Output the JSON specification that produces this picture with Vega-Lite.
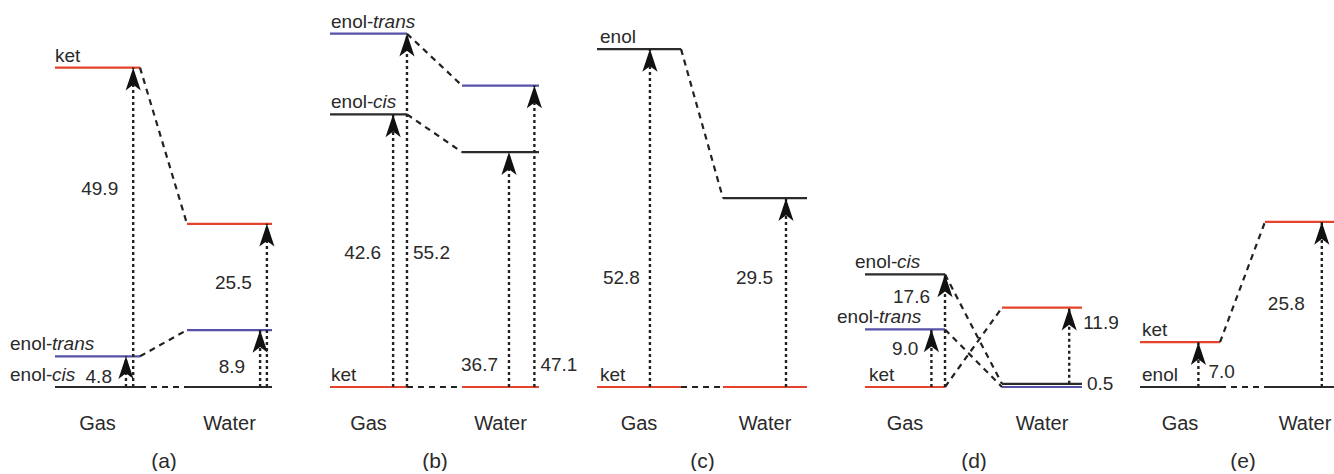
{
  "$schema": "https://vega.github.io/schema/vega-lite/v6.json",
  "background": "white",
  "padding": {"left": 10, "top": 3, "right": 0, "bottom": 0},
  "spacing": 58,
  "bounds": "flush",
  "config": {
    "view": {"stroke": null},
    "font": "Liberation Sans",
    "text": {"font": "Liberation Sans", "fontSize": 19, "color": "#2a2a2a"},
    "axisX": {"domain": false, "ticks": false, "grid": false, "labelFont": "Liberation Sans", "labelFontSize": 20, "labelColor": "#2a2a2a", "labelPadding": 26, "labelAngle": 0, "titleFont": "Liberation Sans", "titleFontSize": 21, "titleFontWeight": "normal", "titleColor": "#2a2a2a", "titlePadding": 17}
  },
  "datasets": {
    "levels": [
      {"panel": "a", "phase": "Gas", "species": "enol-cis", "energy": 0},
      {"panel": "a", "phase": "Gas", "species": "enol-trans", "energy": 4.8},
      {"panel": "a", "phase": "Gas", "species": "ket", "energy": 49.9},
      {"panel": "a", "phase": "Water", "species": "enol-cis", "energy": 0},
      {"panel": "a", "phase": "Water", "species": "enol-trans", "energy": 8.9},
      {"panel": "a", "phase": "Water", "species": "ket", "energy": 25.5},
      {"panel": "b", "phase": "Gas", "species": "ket", "energy": 0},
      {"panel": "b", "phase": "Gas", "species": "enol-cis", "energy": 42.6},
      {"panel": "b", "phase": "Gas", "species": "enol-trans", "energy": 55.2},
      {"panel": "b", "phase": "Water", "species": "ket", "energy": 0},
      {"panel": "b", "phase": "Water", "species": "enol-cis", "energy": 36.7},
      {"panel": "b", "phase": "Water", "species": "enol-trans", "energy": 47.1},
      {"panel": "c", "phase": "Gas", "species": "ket", "energy": 0},
      {"panel": "c", "phase": "Gas", "species": "enol", "energy": 52.8},
      {"panel": "c", "phase": "Water", "species": "ket", "energy": 0},
      {"panel": "c", "phase": "Water", "species": "enol", "energy": 29.5},
      {"panel": "d", "phase": "Gas", "species": "ket", "energy": 0},
      {"panel": "d", "phase": "Gas", "species": "enol-trans", "energy": 9.0},
      {"panel": "d", "phase": "Gas", "species": "enol-cis", "energy": 17.6},
      {"panel": "d", "phase": "Water", "species": "enol-trans", "energy": 0},
      {"panel": "d", "phase": "Water", "species": "enol-cis", "energy": 0.5},
      {"panel": "d", "phase": "Water", "species": "ket", "energy": 12.4},
      {"panel": "e", "phase": "Gas", "species": "enol", "energy": 0},
      {"panel": "e", "phase": "Gas", "species": "ket", "energy": 7.0},
      {"panel": "e", "phase": "Water", "species": "enol", "energy": 0},
      {"panel": "e", "phase": "Water", "species": "ket", "energy": 25.8}
    ],
    "arrows": [
      {"panel": "a", "phase": "Gas", "lower": "enol-cis", "upper": "enol-trans", "from": 0, "to": 4.8},
      {"panel": "a", "phase": "Gas", "lower": "enol-cis", "upper": "ket", "from": 0, "to": 49.9},
      {"panel": "a", "phase": "Water", "lower": "enol-cis", "upper": "enol-trans", "from": 0, "to": 8.9},
      {"panel": "a", "phase": "Water", "lower": "enol-cis", "upper": "ket", "from": 0, "to": 25.5},
      {"panel": "b", "phase": "Gas", "lower": "ket", "upper": "enol-cis", "from": 0, "to": 42.6},
      {"panel": "b", "phase": "Gas", "lower": "ket", "upper": "enol-trans", "from": 0, "to": 55.2},
      {"panel": "b", "phase": "Water", "lower": "ket", "upper": "enol-cis", "from": 0, "to": 36.7},
      {"panel": "b", "phase": "Water", "lower": "ket", "upper": "enol-trans", "from": 0, "to": 47.1},
      {"panel": "c", "phase": "Gas", "lower": "ket", "upper": "enol", "from": 0, "to": 52.8},
      {"panel": "c", "phase": "Water", "lower": "ket", "upper": "enol", "from": 0, "to": 29.5},
      {"panel": "d", "phase": "Gas", "lower": "ket", "upper": "enol-trans", "from": 0, "to": 9.0},
      {"panel": "d", "phase": "Gas", "lower": "ket", "upper": "enol-cis", "from": 0, "to": 17.6},
      {"panel": "d", "phase": "Water", "lower": "enol-cis", "upper": "ket", "from": 0.5, "to": 12.4},
      {"panel": "d", "phase": "Water", "lower": "enol-trans", "upper": "enol-cis", "from": 0, "to": 0.5},
      {"panel": "e", "phase": "Gas", "lower": "enol", "upper": "ket", "from": 0, "to": 7.0},
      {"panel": "e", "phase": "Water", "lower": "enol", "upper": "ket", "from": 0, "to": 25.8}
    ]
  },
  "hconcat": [
    {
      "width": 217, "height": 384,
      "layer": [
        {"data": {"name": "levels"}, "transform": [{"filter": "datum.panel == 'a'"}],
         "mark": {"type": "rule", "strokeWidth": 2.2},
         "encoding": {
           "x": {"field": "phase", "type": "nominal", "bandPosition": 0, "scale": {"type": "band", "domain": ["Gas", "Water"], "paddingInner": 0.356, "paddingOuter": 0}, "axis": {"title": "(a)"}},
           "x2": {"field": "phase", "bandPosition": 1},
           "y": {"field": "energy", "type": "quantitative", "scale": {"domain": [0, 60], "nice": false}, "axis": null},
           "color": {"field": "species", "type": "nominal", "scale": {"domain": ["ket", "enol-trans", "enol-cis", "enol"], "range": ["#e5432b", "#5552a8", "#2b2b2b", "#2b2b2b"]}, "legend": null}}},
        {"data": {"name": "levels"}, "transform": [{"filter": "datum.panel == 'a'"}, {"pivot": "phase", "value": "energy", "groupby": ["species"]}],
         "mark": {"type": "rule", "strokeWidth": 2.2, "strokeDash": [6, 5], "color": "#222222"},
         "encoding": {"x": {"datum": "Gas", "type": "nominal", "bandPosition": 1}, "x2": {"datum": "Water", "bandPosition": 0}, "y": {"field": "Gas", "type": "quantitative", "axis": null}, "y2": {"field": "Water"}}},
        {"data": {"name": "levels"},
         "transform": [{"filter": "datum.panel == 'a' && datum.phase == 'Gas' && datum.species == 'ket'"}],
         "mark": {"type": "text", "align": "left", "baseline": "alphabetic", "dx": 0, "dy": -6},
         "encoding": {"x": {"field": "phase", "type": "nominal", "bandPosition": 0}, "y": {"field": "energy", "type": "quantitative", "axis": null}, "text": {"field": "species"}}},
        {"data": {"name": "levels"},
         "transform": [{"filter": "datum.panel == 'a' && datum.phase == 'Gas' && datum.species != 'ket'"}, {"calculate": "split(datum.species, '-')[0] + '-'", "as": "stem"}, {"calculate": "split(datum.species, '-')[1]", "as": "form"}],
         "encoding": {"x": {"field": "phase", "type": "nominal", "bandPosition": 0}, "y": {"field": "energy", "type": "quantitative", "axis": null}},
         "layer": [
           {"mark": {"type": "text", "align": "left", "baseline": "alphabetic", "dx": -45, "dy": -6}, "encoding": {"text": {"field": "stem"}}},
           {"mark": {"type": "text", "align": "left", "baseline": "alphabetic", "dx": -3, "dy": -6, "fontStyle": "italic"}, "encoding": {"text": {"field": "form"}}}
         ]},
        {"data": {"name": "arrows"}, "transform": [{"filter": "datum.panel == 'a' && datum.phase == 'Gas' && datum.upper == 'enol-trans'"}, {"calculate": "datum.to - datum.from", "as": "gap"}],
         "encoding": {"x": {"field": "phase", "type": "nominal", "bandPosition": 0.835}},
         "layer": [
           {"mark": {"type": "rule", "strokeWidth": 2.4, "strokeDash": [3, 3], "color": "#222222"}, "encoding": {"y": {"field": "from", "type": "quantitative", "axis": null}, "y2": {"field": "to"}}},
           {"mark": {"type": "point", "shape": "M0,0L1.2,3.6L0,2.7L-1.2,3.6Z", "size": 160, "filled": true, "opacity": 1, "color": "#111111"}, "encoding": {"y": {"field": "to", "type": "quantitative", "axis": null}}},
           {"mark": {"type": "text", "align": "right", "baseline": "middle", "dx": -14}, "encoding": {"y": {"datum": 1.5, "type": "quantitative", "axis": null}, "text": {"field": "gap", "type": "quantitative", "format": ".1f"}}}
         ]},
        {"data": {"name": "arrows"}, "transform": [{"filter": "datum.panel == 'a' && datum.phase == 'Gas' && datum.upper == 'ket'"}, {"calculate": "datum.to - datum.from", "as": "gap"}],
         "encoding": {"x": {"field": "phase", "type": "nominal", "bandPosition": 0.92}},
         "layer": [
           {"mark": {"type": "rule", "strokeWidth": 2.4, "strokeDash": [3, 3], "color": "#222222"}, "encoding": {"y": {"field": "from", "type": "quantitative", "axis": null}, "y2": {"field": "to"}}},
           {"mark": {"type": "point", "shape": "M0,0L1.2,3.6L0,2.7L-1.2,3.6Z", "size": 160, "filled": true, "opacity": 1, "color": "#111111"}, "encoding": {"y": {"field": "to", "type": "quantitative", "axis": null}}},
           {"mark": {"type": "text", "align": "right", "baseline": "middle", "dx": -15}, "encoding": {"y": {"datum": 31, "type": "quantitative", "axis": null}, "text": {"field": "gap", "type": "quantitative", "format": ".1f"}}}
         ]},
        {"data": {"name": "arrows"}, "transform": [{"filter": "datum.panel == 'a' && datum.phase == 'Water' && datum.upper == 'enol-trans'"}, {"calculate": "datum.to - datum.from", "as": "gap"}],
         "encoding": {"x": {"field": "phase", "type": "nominal", "bandPosition": 0.86}},
         "layer": [
           {"mark": {"type": "rule", "strokeWidth": 2.4, "strokeDash": [3, 3], "color": "#222222"}, "encoding": {"y": {"field": "from", "type": "quantitative", "axis": null}, "y2": {"field": "to"}}},
           {"mark": {"type": "point", "shape": "M0,0L1.2,3.6L0,2.7L-1.2,3.6Z", "size": 160, "filled": true, "opacity": 1, "color": "#111111"}, "encoding": {"y": {"field": "to", "type": "quantitative", "axis": null}}},
           {"mark": {"type": "text", "align": "right", "baseline": "middle", "dx": -15}, "encoding": {"y": {"datum": 3.2, "type": "quantitative", "axis": null}, "text": {"field": "gap", "type": "quantitative", "format": ".1f"}}}
         ]},
        {"data": {"name": "arrows"}, "transform": [{"filter": "datum.panel == 'a' && datum.phase == 'Water' && datum.upper == 'ket'"}, {"calculate": "datum.to - datum.from", "as": "gap"}],
         "encoding": {"x": {"field": "phase", "type": "nominal", "bandPosition": 0.94}},
         "layer": [
           {"mark": {"type": "rule", "strokeWidth": 2.4, "strokeDash": [3, 3], "color": "#222222"}, "encoding": {"y": {"field": "from", "type": "quantitative", "axis": null}, "y2": {"field": "to"}}},
           {"mark": {"type": "point", "shape": "M0,0L1.2,3.6L0,2.7L-1.2,3.6Z", "size": 160, "filled": true, "opacity": 1, "color": "#111111"}, "encoding": {"y": {"field": "to", "type": "quantitative", "axis": null}}},
           {"mark": {"type": "text", "align": "right", "baseline": "middle", "dx": -15}, "encoding": {"y": {"datum": 16.2, "type": "quantitative", "axis": null}, "text": {"field": "gap", "type": "quantitative", "format": ".1f"}}}
         ]}
      ]
    },
    {
      "width": 209, "height": 384,
      "layer": [
        {"data": {"name": "levels"}, "transform": [{"filter": "datum.panel == 'b'"}],
         "mark": {"type": "rule", "strokeWidth": 2.2},
         "encoding": {
           "x": {"field": "phase", "type": "nominal", "bandPosition": 0, "scale": {"type": "band", "domain": ["Gas", "Water"], "paddingInner": 0.417, "paddingOuter": 0}, "axis": {"title": "(b)"}},
           "x2": {"field": "phase", "bandPosition": 1},
           "y": {"field": "energy", "type": "quantitative", "scale": {"domain": [0, 60], "nice": false}, "axis": null},
           "color": {"field": "species", "type": "nominal", "scale": {"domain": ["ket", "enol-trans", "enol-cis", "enol"], "range": ["#e5432b", "#5552a8", "#2b2b2b", "#2b2b2b"]}, "legend": null}}},
        {"data": {"name": "levels"}, "transform": [{"filter": "datum.panel == 'b'"}, {"pivot": "phase", "value": "energy", "groupby": ["species"]}],
         "mark": {"type": "rule", "strokeWidth": 2.2, "strokeDash": [6, 5], "color": "#222222"},
         "encoding": {"x": {"datum": "Gas", "type": "nominal", "bandPosition": 1}, "x2": {"datum": "Water", "bandPosition": 0}, "y": {"field": "Gas", "type": "quantitative", "axis": null}, "y2": {"field": "Water"}}},
        {"data": {"name": "levels"},
         "transform": [{"filter": "datum.panel == 'b' && datum.phase == 'Gas'"}, {"calculate": "indexof(datum.species, '-') > 0 ? split(datum.species, '-')[0] + '-' : datum.species", "as": "stem"}, {"calculate": "indexof(datum.species, '-') > 0 ? split(datum.species, '-')[1] : ''", "as": "form"}],
         "encoding": {"x": {"field": "phase", "type": "nominal", "bandPosition": 0}, "y": {"field": "energy", "type": "quantitative", "axis": null}},
         "layer": [
           {"mark": {"type": "text", "align": "left", "baseline": "alphabetic", "dx": 1, "dy": -6}, "encoding": {"text": {"field": "stem"}}},
           {"mark": {"type": "text", "align": "left", "baseline": "alphabetic", "dx": 43, "dy": -6, "fontStyle": "italic"}, "encoding": {"text": {"field": "form"}}}
         ]},
        {"data": {"name": "arrows"}, "transform": [{"filter": "datum.panel == 'b' && datum.phase == 'Gas' && datum.upper == 'enol-cis'"}, {"calculate": "datum.to - datum.from", "as": "gap"}],
         "encoding": {"x": {"field": "phase", "type": "nominal", "bandPosition": 0.82}},
         "layer": [
           {"mark": {"type": "rule", "strokeWidth": 2.4, "strokeDash": [3, 3], "color": "#222222"}, "encoding": {"y": {"field": "from", "type": "quantitative", "axis": null}, "y2": {"field": "to"}}},
           {"mark": {"type": "point", "shape": "M0,0L1.2,3.6L0,2.7L-1.2,3.6Z", "size": 160, "filled": true, "opacity": 1, "color": "#111111"}, "encoding": {"y": {"field": "to", "type": "quantitative", "axis": null}}},
           {"mark": {"type": "text", "align": "right", "baseline": "middle", "dx": -12}, "encoding": {"y": {"datum": 21, "type": "quantitative", "axis": null}, "text": {"field": "gap", "type": "quantitative", "format": ".1f"}}}
         ]},
        {"data": {"name": "arrows"}, "transform": [{"filter": "datum.panel == 'b' && datum.phase == 'Gas' && datum.upper == 'enol-trans'"}, {"calculate": "datum.to - datum.from", "as": "gap"}],
         "encoding": {"x": {"field": "phase", "type": "nominal", "bandPosition": 1}},
         "layer": [
           {"mark": {"type": "rule", "strokeWidth": 2.4, "strokeDash": [3, 3], "color": "#222222"}, "encoding": {"y": {"field": "from", "type": "quantitative", "axis": null}, "y2": {"field": "to"}}},
           {"mark": {"type": "point", "shape": "M0,0L1.2,3.6L0,2.7L-1.2,3.6Z", "size": 160, "filled": true, "opacity": 1, "color": "#111111"}, "encoding": {"y": {"field": "to", "type": "quantitative", "axis": null}}},
           {"mark": {"type": "text", "align": "left", "baseline": "middle", "dx": 6}, "encoding": {"y": {"datum": 21, "type": "quantitative", "axis": null}, "text": {"field": "gap", "type": "quantitative", "format": ".1f"}}}
         ]},
        {"data": {"name": "arrows"}, "transform": [{"filter": "datum.panel == 'b' && datum.phase == 'Water' && datum.upper == 'enol-cis'"}, {"calculate": "datum.to - datum.from", "as": "gap"}],
         "encoding": {"x": {"field": "phase", "type": "nominal", "bandPosition": 0.61}},
         "layer": [
           {"mark": {"type": "rule", "strokeWidth": 2.4, "strokeDash": [3, 3], "color": "#222222"}, "encoding": {"y": {"field": "from", "type": "quantitative", "axis": null}, "y2": {"field": "to"}}},
           {"mark": {"type": "point", "shape": "M0,0L1.2,3.6L0,2.7L-1.2,3.6Z", "size": 160, "filled": true, "opacity": 1, "color": "#111111"}, "encoding": {"y": {"field": "to", "type": "quantitative", "axis": null}}},
           {"mark": {"type": "text", "align": "right", "baseline": "middle", "dx": -11}, "encoding": {"y": {"datum": 3.4, "type": "quantitative", "axis": null}, "text": {"field": "gap", "type": "quantitative", "format": ".1f"}}}
         ]},
        {"data": {"name": "arrows"}, "transform": [{"filter": "datum.panel == 'b' && datum.phase == 'Water' && datum.upper == 'enol-trans'"}, {"calculate": "datum.to - datum.from", "as": "gap"}],
         "encoding": {"x": {"field": "phase", "type": "nominal", "bandPosition": 0.94}},
         "layer": [
           {"mark": {"type": "rule", "strokeWidth": 2.4, "strokeDash": [3, 3], "color": "#222222"}, "encoding": {"y": {"field": "from", "type": "quantitative", "axis": null}, "y2": {"field": "to"}}},
           {"mark": {"type": "point", "shape": "M0,0L1.2,3.6L0,2.7L-1.2,3.6Z", "size": 160, "filled": true, "opacity": 1, "color": "#111111"}, "encoding": {"y": {"field": "to", "type": "quantitative", "axis": null}}},
           {"mark": {"type": "text", "align": "left", "baseline": "middle", "dx": 6}, "encoding": {"y": {"datum": 3.4, "type": "quantitative", "axis": null}, "text": {"field": "gap", "type": "quantitative", "format": ".1f"}}}
         ]}
      ]
    },
    {
      "width": 210, "height": 384,
      "layer": [
        {"data": {"name": "levels"}, "transform": [{"filter": "datum.panel == 'c'"}],
         "mark": {"type": "rule", "strokeWidth": 2.2},
         "encoding": {
           "x": {"field": "phase", "type": "nominal", "bandPosition": 0, "scale": {"type": "band", "domain": ["Gas", "Water"], "paddingInner": 0.333, "paddingOuter": 0}, "axis": {"title": "(c)"}},
           "x2": {"field": "phase", "bandPosition": 1},
           "y": {"field": "energy", "type": "quantitative", "scale": {"domain": [0, 60], "nice": false}, "axis": null},
           "color": {"field": "species", "type": "nominal", "scale": {"domain": ["ket", "enol-trans", "enol-cis", "enol"], "range": ["#e5432b", "#5552a8", "#2b2b2b", "#2b2b2b"]}, "legend": null}}},
        {"data": {"name": "levels"}, "transform": [{"filter": "datum.panel == 'c'"}, {"pivot": "phase", "value": "energy", "groupby": ["species"]}],
         "mark": {"type": "rule", "strokeWidth": 2.2, "strokeDash": [6, 5], "color": "#222222"},
         "encoding": {"x": {"datum": "Gas", "type": "nominal", "bandPosition": 1}, "x2": {"datum": "Water", "bandPosition": 0}, "y": {"field": "Gas", "type": "quantitative", "axis": null}, "y2": {"field": "Water"}}},
        {"data": {"name": "levels"},
         "transform": [{"filter": "datum.panel == 'c' && datum.phase == 'Gas'"}],
         "mark": {"type": "text", "align": "left", "baseline": "alphabetic", "dx": 3, "dy": -6},
         "encoding": {"x": {"field": "phase", "type": "nominal", "bandPosition": 0}, "y": {"field": "energy", "type": "quantitative", "axis": null}, "text": {"field": "species"}}},
        {"data": {"name": "arrows"}, "transform": [{"filter": "datum.panel == 'c' && datum.phase == 'Gas'"}, {"calculate": "datum.to - datum.from", "as": "gap"}],
         "encoding": {"x": {"field": "phase", "type": "nominal", "bandPosition": 0.63}},
         "layer": [
           {"mark": {"type": "rule", "strokeWidth": 2.4, "strokeDash": [3, 3], "color": "#222222"}, "encoding": {"y": {"field": "from", "type": "quantitative", "axis": null}, "y2": {"field": "to"}}},
           {"mark": {"type": "point", "shape": "M0,0L1.2,3.6L0,2.7L-1.2,3.6Z", "size": 160, "filled": true, "opacity": 1, "color": "#111111"}, "encoding": {"y": {"field": "to", "type": "quantitative", "axis": null}}},
           {"mark": {"type": "text", "align": "right", "baseline": "middle", "dx": -10}, "encoding": {"y": {"datum": 17, "type": "quantitative", "axis": null}, "text": {"field": "gap", "type": "quantitative", "format": ".1f"}}}
         ]},
        {"data": {"name": "arrows"}, "transform": [{"filter": "datum.panel == 'c' && datum.phase == 'Water'"}, {"calculate": "datum.to - datum.from", "as": "gap"}],
         "encoding": {"x": {"field": "phase", "type": "nominal", "bandPosition": 0.75}},
         "layer": [
           {"mark": {"type": "rule", "strokeWidth": 2.4, "strokeDash": [3, 3], "color": "#222222"}, "encoding": {"y": {"field": "from", "type": "quantitative", "axis": null}, "y2": {"field": "to"}}},
           {"mark": {"type": "point", "shape": "M0,0L1.2,3.6L0,2.7L-1.2,3.6Z", "size": 160, "filled": true, "opacity": 1, "color": "#111111"}, "encoding": {"y": {"field": "to", "type": "quantitative", "axis": null}}},
           {"mark": {"type": "text", "align": "right", "baseline": "middle", "dx": -13}, "encoding": {"y": {"datum": 17, "type": "quantitative", "axis": null}, "text": {"field": "gap", "type": "quantitative", "format": ".1f"}}}
         ]}
      ]
    },
    {
      "width": 217, "height": 384,
      "layer": [
        {"data": {"name": "levels"}, "transform": [{"filter": "datum.panel == 'd'"}],
         "mark": {"type": "rule", "strokeWidth": 2.2},
         "encoding": {
           "x": {"field": "phase", "type": "nominal", "bandPosition": 0, "scale": {"type": "band", "domain": ["Gas", "Water"], "paddingInner": 0.416, "paddingOuter": 0}, "axis": {"title": "(d)"}},
           "x2": {"field": "phase", "bandPosition": 1},
           "y": {"field": "energy", "type": "quantitative", "scale": {"domain": [0, 60], "nice": false}, "axis": null},
           "color": {"field": "species", "type": "nominal", "scale": {"domain": ["ket", "enol-trans", "enol-cis", "enol"], "range": ["#e5432b", "#5552a8", "#2b2b2b", "#2b2b2b"]}, "legend": null}}},
        {"data": {"name": "levels"}, "transform": [{"filter": "datum.panel == 'd'"}, {"pivot": "phase", "value": "energy", "groupby": ["species"]}],
         "mark": {"type": "rule", "strokeWidth": 2.2, "strokeDash": [6, 5], "color": "#222222"},
         "encoding": {"x": {"datum": "Gas", "type": "nominal", "bandPosition": 1}, "x2": {"datum": "Water", "bandPosition": 0}, "y": {"field": "Gas", "type": "quantitative", "axis": null}, "y2": {"field": "Water"}}},
        {"data": {"name": "levels"},
         "transform": [{"filter": "datum.panel == 'd' && datum.phase == 'Gas' && datum.species == 'ket'"}],
         "mark": {"type": "text", "align": "left", "baseline": "alphabetic", "dx": 4, "dy": -6},
         "encoding": {"x": {"field": "phase", "type": "nominal", "bandPosition": 0}, "y": {"field": "energy", "type": "quantitative", "axis": null}, "text": {"field": "species"}}},
        {"data": {"name": "levels"},
         "transform": [{"filter": "datum.panel == 'd' && datum.phase == 'Gas' && datum.species == 'enol-cis'"}, {"calculate": "split(datum.species, '-')[0] + '-'", "as": "stem"}, {"calculate": "split(datum.species, '-')[1]", "as": "form"}],
         "encoding": {"x": {"field": "phase", "type": "nominal", "bandPosition": 0}, "y": {"field": "energy", "type": "quantitative", "axis": null}},
         "layer": [
           {"mark": {"type": "text", "align": "left", "baseline": "alphabetic", "dx": -10, "dy": -6}, "encoding": {"text": {"field": "stem"}}},
           {"mark": {"type": "text", "align": "left", "baseline": "alphabetic", "dx": 32, "dy": -6, "fontStyle": "italic"}, "encoding": {"text": {"field": "form"}}}
         ]},
        {"data": {"name": "levels"},
         "transform": [{"filter": "datum.panel == 'd' && datum.phase == 'Gas' && datum.species == 'enol-trans'"}, {"calculate": "split(datum.species, '-')[0] + '-'", "as": "stem"}, {"calculate": "split(datum.species, '-')[1]", "as": "form"}],
         "encoding": {"x": {"field": "phase", "type": "nominal", "bandPosition": 0}, "y": {"field": "energy", "type": "quantitative", "axis": null}},
         "layer": [
           {"mark": {"type": "text", "align": "left", "baseline": "alphabetic", "dx": -28, "dy": -6}, "encoding": {"text": {"field": "stem"}}},
           {"mark": {"type": "text", "align": "left", "baseline": "alphabetic", "dx": 14, "dy": -6, "fontStyle": "italic"}, "encoding": {"text": {"field": "form"}}}
         ]},
        {"data": {"name": "arrows"}, "transform": [{"filter": "datum.panel == 'd' && datum.phase == 'Gas' && datum.upper == 'enol-trans'"}, {"calculate": "datum.to - datum.from", "as": "gap"}],
         "encoding": {"x": {"field": "phase", "type": "nominal", "bandPosition": 0.83}},
         "layer": [
           {"mark": {"type": "rule", "strokeWidth": 2.4, "strokeDash": [3, 3], "color": "#222222"}, "encoding": {"y": {"field": "from", "type": "quantitative", "axis": null}, "y2": {"field": "to"}}},
           {"mark": {"type": "point", "shape": "M0,0L1.2,3.6L0,2.7L-1.2,3.6Z", "size": 160, "filled": true, "opacity": 1, "color": "#111111"}, "encoding": {"y": {"field": "to", "type": "quantitative", "axis": null}}},
           {"mark": {"type": "text", "align": "right", "baseline": "middle", "dx": -13}, "encoding": {"y": {"datum": 5.9, "type": "quantitative", "axis": null}, "text": {"field": "gap", "type": "quantitative", "format": ".1f"}}}
         ]},
        {"data": {"name": "arrows"}, "transform": [{"filter": "datum.panel == 'd' && datum.phase == 'Gas' && datum.upper == 'enol-cis'"}, {"calculate": "datum.to - datum.from", "as": "gap"}],
         "encoding": {"x": {"field": "phase", "type": "nominal", "bandPosition": 1}},
         "layer": [
           {"mark": {"type": "rule", "strokeWidth": 2.4, "strokeDash": [3, 3], "color": "#222222"}, "encoding": {"y": {"field": "from", "type": "quantitative", "axis": null}, "y2": {"field": "to"}}},
           {"mark": {"type": "point", "shape": "M0,0L1.2,3.6L0,2.7L-1.2,3.6Z", "size": 160, "filled": true, "opacity": 1, "color": "#111111"}, "encoding": {"y": {"field": "to", "type": "quantitative", "axis": null}}},
           {"mark": {"type": "text", "align": "right", "baseline": "middle", "dx": -15}, "encoding": {"y": {"datum": 14, "type": "quantitative", "axis": null}, "text": {"field": "gap", "type": "quantitative", "format": ".1f"}}}
         ]},
        {"data": {"name": "arrows"}, "transform": [{"filter": "datum.panel == 'd' && datum.phase == 'Water' && datum.upper == 'ket'"}, {"calculate": "datum.to - datum.from", "as": "gap"}],
         "encoding": {"x": {"field": "phase", "type": "nominal", "bandPosition": 0.84}},
         "layer": [
           {"mark": {"type": "rule", "strokeWidth": 2.4, "strokeDash": [3, 3], "color": "#222222"}, "encoding": {"y": {"field": "from", "type": "quantitative", "axis": null}, "y2": {"field": "to"}}},
           {"mark": {"type": "point", "shape": "M0,0L1.2,3.6L0,2.7L-1.2,3.6Z", "size": 160, "filled": true, "opacity": 1, "color": "#111111"}, "encoding": {"y": {"field": "to", "type": "quantitative", "axis": null}}},
           {"mark": {"type": "text", "align": "left", "baseline": "middle", "dx": 14}, "encoding": {"y": {"datum": 10, "type": "quantitative", "axis": null}, "text": {"field": "gap", "type": "quantitative", "format": ".1f"}}}
         ]},
        {"data": {"name": "arrows"}, "transform": [{"filter": "datum.panel == 'd' && datum.phase == 'Water' && datum.upper == 'enol-cis'"}, {"calculate": "datum.to - datum.from", "as": "gap"}],
         "mark": {"type": "text", "align": "left", "baseline": "middle", "dx": 5},
         "encoding": {"x": {"field": "phase", "type": "nominal", "bandPosition": 1}, "y": {"datum": 0.4, "type": "quantitative", "axis": null}, "text": {"field": "gap", "type": "quantitative", "format": ".1f"}}}
      ]
    },
    {
      "width": 205, "height": 384,
      "layer": [
        {"data": {"name": "levels"}, "transform": [{"filter": "datum.panel == 'e'"}],
         "mark": {"type": "rule", "strokeWidth": 2.2},
         "encoding": {
           "x": {"field": "phase", "type": "nominal", "bandPosition": 0, "scale": {"type": "band", "domain": ["Gas", "Water"], "paddingInner": 0.36, "paddingOuter": 0}, "axis": {"title": "(e)"}},
           "x2": {"field": "phase", "bandPosition": 1},
           "y": {"field": "energy", "type": "quantitative", "scale": {"domain": [0, 60], "nice": false}, "axis": null},
           "color": {"field": "species", "type": "nominal", "scale": {"domain": ["ket", "enol-trans", "enol-cis", "enol"], "range": ["#e5432b", "#5552a8", "#2b2b2b", "#2b2b2b"]}, "legend": null}}},
        {"data": {"name": "levels"}, "transform": [{"filter": "datum.panel == 'e'"}, {"pivot": "phase", "value": "energy", "groupby": ["species"]}],
         "mark": {"type": "rule", "strokeWidth": 2.2, "strokeDash": [6, 5], "color": "#222222"},
         "encoding": {"x": {"datum": "Gas", "type": "nominal", "bandPosition": 1}, "x2": {"datum": "Water", "bandPosition": 0}, "y": {"field": "Gas", "type": "quantitative", "axis": null}, "y2": {"field": "Water"}}},
        {"data": {"name": "levels"},
         "transform": [{"filter": "datum.panel == 'e' && datum.phase == 'Gas'"}],
         "mark": {"type": "text", "align": "left", "baseline": "alphabetic", "dx": 2, "dy": -6},
         "encoding": {"x": {"field": "phase", "type": "nominal", "bandPosition": 0}, "y": {"field": "energy", "type": "quantitative", "axis": null}, "text": {"field": "species"}}},
        {"data": {"name": "arrows"}, "transform": [{"filter": "datum.panel == 'e' && datum.phase == 'Gas'"}, {"calculate": "datum.to - datum.from", "as": "gap"}],
         "encoding": {"x": {"field": "phase", "type": "nominal", "bandPosition": 0.73}},
         "layer": [
           {"mark": {"type": "rule", "strokeWidth": 2.4, "strokeDash": [3, 3], "color": "#222222"}, "encoding": {"y": {"field": "from", "type": "quantitative", "axis": null}, "y2": {"field": "to"}}},
           {"mark": {"type": "point", "shape": "M0,0L1.2,3.6L0,2.7L-1.2,3.6Z", "size": 160, "filled": true, "opacity": 1, "color": "#111111"}, "encoding": {"y": {"field": "to", "type": "quantitative", "axis": null}}},
           {"mark": {"type": "text", "align": "left", "baseline": "middle", "dx": 10}, "encoding": {"y": {"datum": 2.3, "type": "quantitative", "axis": null}, "text": {"field": "gap", "type": "quantitative", "format": ".1f"}}}
         ]},
        {"data": {"name": "arrows"}, "transform": [{"filter": "datum.panel == 'e' && datum.phase == 'Water'"}, {"calculate": "datum.to - datum.from", "as": "gap"}],
         "encoding": {"x": {"field": "phase", "type": "nominal", "bandPosition": 0.71}},
         "layer": [
           {"mark": {"type": "rule", "strokeWidth": 2.4, "strokeDash": [3, 3], "color": "#222222"}, "encoding": {"y": {"field": "from", "type": "quantitative", "axis": null}, "y2": {"field": "to"}}},
           {"mark": {"type": "point", "shape": "M0,0L1.2,3.6L0,2.7L-1.2,3.6Z", "size": 160, "filled": true, "opacity": 1, "color": "#111111"}, "encoding": {"y": {"field": "to", "type": "quantitative", "axis": null}}},
           {"mark": {"type": "text", "align": "right", "baseline": "middle", "dx": -17}, "encoding": {"y": {"datum": 13, "type": "quantitative", "axis": null}, "text": {"field": "gap", "type": "quantitative", "format": ".1f"}}}
         ]}
      ]
    }
  ]
}
